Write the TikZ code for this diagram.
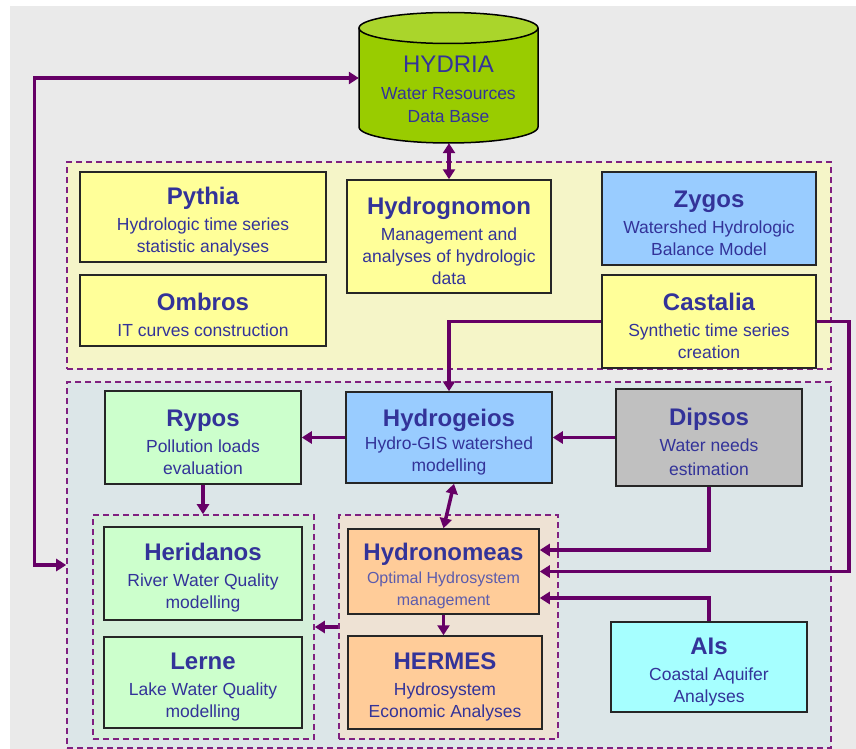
\documentclass[tikz,border=0pt]{standalone}
\usepackage{fontspec}
\setmainfont{Liberation Sans}
\usetikzlibrary{arrows.meta,fit,calc}
\definecolor{bgc}{HTML}{EAEAEA}
\definecolor{topfill}{HTML}{F5F5C8}
\definecolor{midfill}{HTML}{DCE6E8}
\definecolor{qualfill}{HTML}{D5F0DA}
\definecolor{mgmtfill}{HTML}{EEE2D4}
\definecolor{cyellow}{HTML}{FFFF99}
\definecolor{cblue}{HTML}{99CCFF}
\definecolor{cgreen}{HTML}{CCFFCC}
\definecolor{cgray}{HTML}{C0C0C0}
\definecolor{corange}{HTML}{FFCC99}
\definecolor{caqua}{HTML}{A6FFFF}
\definecolor{cylbody}{HTML}{99CC00}
\definecolor{cyltop}{HTML}{AAD52B}
\definecolor{txt}{HTML}{333399}
\definecolor{arrc}{HTML}{660066}
\definecolor{dashc}{HTML}{802080}
\newcommand\subfnt{\fontsize{17.5}{22}\selectfont}
\newcommand\ttl[1]{{\fontsize{24}{28}\selectfont\bfseries\rule{0pt}{26pt}#1}\\[4pt]}
\begin{document}
\begin{tikzpicture}[x=1pt,y=-1pt,
  region/.style={draw=dashc, dash pattern=on 6pt off 4pt, line width=1.6pt, inner sep=0pt},
  box/.style={draw=black!85, line width=1.5pt, inner sep=0pt, align=center, text=txt, font=\subfnt},
  arr/.style={draw=arrc, line width=3.5pt, ->},
  >={Triangle[length=10pt,width=12pt]}]
\useasboundingbox (0,0) rectangle (856,749);
\fill[bgc] (10,6) rectangle (856,749);

% regions
\node[region, fill=topfill, fit={(67,162) (831,369)}] (toparea) {};
\node[region, fill=midfill, fit={(67,382) (831,748)}] (midarea) {};
\node[region, fill=qualfill, fit={(93,515) (314,739)}] (qualgroup) {};
\node[region, fill=mgmtfill, fit={(339,515) (558,739)}] (mgmtgroup) {};

% cylinder
\fill[cylbody] (448.5,127) ellipse [x radius=89.5pt, y radius=16pt];
\fill[cylbody] (359,28) rectangle (538,127);
\draw[black, line width=1.5pt] (359,28) -- (359,127) arc[start angle=180, end angle=360, x radius=89.5pt, y radius=16pt] -- (538,28);
\filldraw[fill=cyltop, draw=black, line width=1.5pt] (448.5,28) ellipse [x radius=89.5pt, y radius=15.5pt];
\node[inner sep=0pt, minimum width=179pt, minimum height=115pt, align=center, text=txt, font=\subfnt] (hydria) at (448.5,85.5)
  {{\fontsize{24}{28}\selectfont\rule{0pt}{24pt}HYDRIA}\\[5pt]Water Resources\\[1pt]Data Base};

% top area boxes
\node[box, fill=cyellow, minimum width=246pt, minimum height=90pt] (pythia) at (203,217) {\ttl{Pythia}Hydrologic time series\\statistic analyses};
\node[box, fill=cyellow, minimum width=246pt, minimum height=71pt] (ombros) at (203,310.5) {\ttl{Ombros}IT curves construction};
\node[box, fill=cyellow, minimum width=204pt, minimum height=113pt] (hydrognomon) at (449,236.5) {\ttl{Hydrognomon}Management and\\analyses of hydrologic\\data};
\node[box, fill=cblue, minimum width=214pt, minimum height=93pt] (zygos) at (709,218.5) {\ttl{Zygos}Watershed Hydrologic\\Balance Model};
\node[box, fill=cyellow, minimum width=214pt, minimum height=93pt] (castalia) at (709,321.5) {\ttl{Castalia}Synthetic time series\\creation};

% middle area boxes
\node[box, fill=cgreen, minimum width=196pt, minimum height=93pt] (rypos) at (203,437.5) {\ttl{Rypos}Pollution loads\\evaluation};
\node[box, fill=cblue, minimum width=206pt, minimum height=91pt] (hydrogeios) at (449,437.5) {{\fontsize{24}{28}\selectfont\bfseries\rule{0pt}{26pt}Hydrogeios}\\[1pt]Hydro-GIS watershed\\modelling};
\node[box, fill=cgray, minimum width=186pt, minimum height=97pt] (dipsos) at (709,437.5) {\ttl{Dipsos}Water needs\\[2pt]estimation};
\node[box, fill=cgreen, minimum width=198pt, minimum height=93pt] (heridanos) at (203,573.5) {\ttl{Heridanos}River Water Quality\\modelling};
\node[box, fill=cgreen, minimum width=198pt, minimum height=91pt] (lerne) at (203,682.5) {\ttl{Lerne}Lake Water Quality\\modelling};
\node[box, fill=corange, minimum width=191pt, minimum height=85pt] (hydronomeas) at (443.5,571.5)
  {{\fontsize{24}{28}\selectfont\bfseries\rule{0pt}{27pt}Hydronomeas}\\[1pt]{\fontsize{16}{20}\selectfont\color{txt!80}Optimal Hydrosystem}\\{\fontsize{16}{20}\selectfont\color{txt!80}management}};
\node[box, fill=corange, minimum width=194pt, minimum height=93pt] (hermes) at (445,682.5) {\ttl{HERMES}Hydrosystem\\Economic Analyses};
\node[box, fill=caqua, minimum width=196pt, minimum height=90pt] (ais) at (709,667) {\ttl{AIs}Coastal Aquifer\\Analyses};

% connectors
\coordinate (loopc) at (34.5,300);
\draw[arr,<->] ([yshift=7.5pt]hydria.west) -| (loopc) |- (midarea.west);
\draw[arr,<->] (hydria.south -| hydrognomon.north) -- (hydrognomon.north);
\draw[arr] (castalia.west) -| (hydrogeios.north);
\coordinate (castr) at ($(castalia.east)+(32,0)$);
\draw[arr] (castalia.east) -- (castr) |- (hydronomeas.east);
\draw[arr] (hydrogeios.west) -- (rypos.east);
\draw[arr] (dipsos.west) -- (hydrogeios.east);
\draw[arr] (rypos.south) -- (rypos.south |- qualgroup.north);
\draw[arr,<->] ([xshift=5pt]hydrogeios.south) -- (hydronomeas.north);
\draw[arr] (hydronomeas.south) -- (hydronomeas.south |- hermes.north);
\draw[arr] (mgmtgroup.west) -- (qualgroup.east);
\draw[arr] (dipsos.south) |- ([yshift=21.5pt]hydronomeas.east);
\draw[arr] (ais.north) |- ([yshift=-26.5pt]hydronomeas.east);
\end{tikzpicture}
\end{document}
